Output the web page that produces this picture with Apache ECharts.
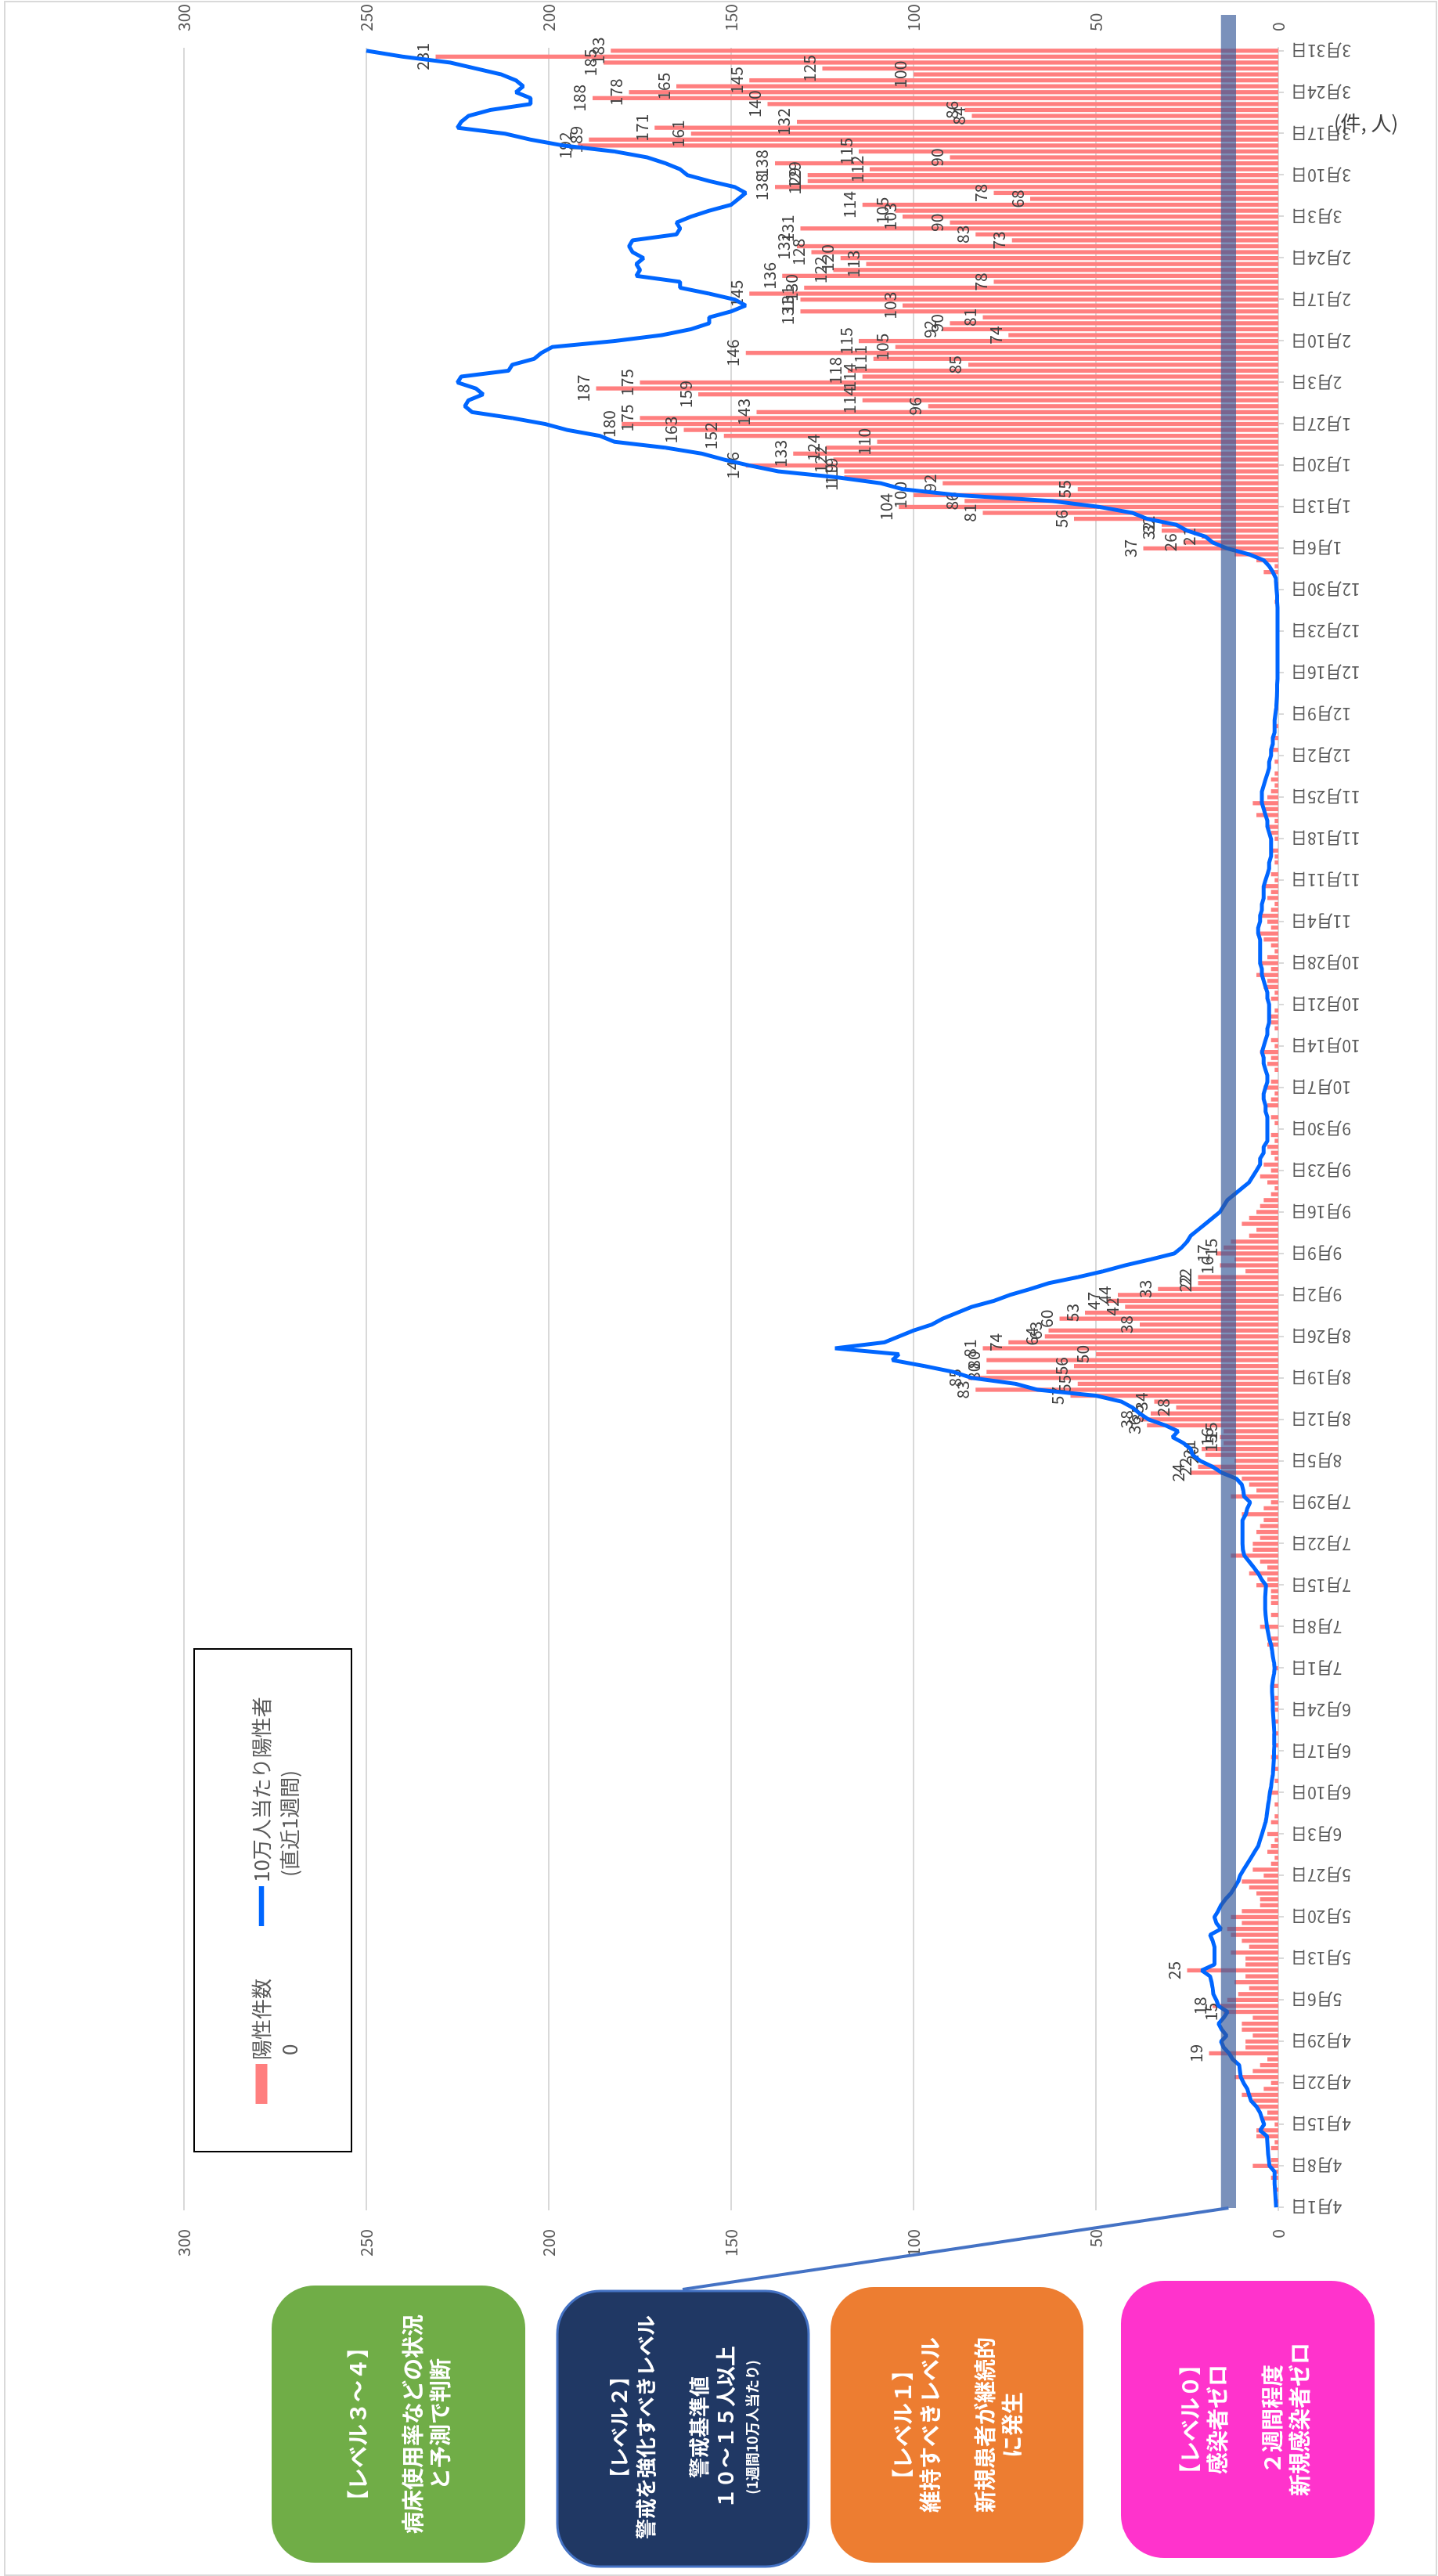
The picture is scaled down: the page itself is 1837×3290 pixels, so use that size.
<!DOCTYPE html>
<html>
<head>
<meta charset="utf-8">
<script src="https://cdn.jsdelivr.net/npm/echarts@6/dist/echarts.min.js"></script>
<style>
html, body { margin: 0; padding: 0; background: #fff; width: 1837px; height: 3290px; overflow: hidden; }
/* chart is laid out landscape, then turned a quarter turn to the left like the reference */
#chart { position: absolute; left: 0; top: 0; width: 3290px; height: 1837px;
  transform-origin: 0 0; transform: translate(0, 3290px) rotate(-90deg); }
</style>
</head>
<body>
<div id="chart"></div>
<script>
var FONT = '"Noto Sans CJK JP", "Noto Sans", sans-serif';

// 月と日数（4月〜翌3月）
var monthNo = [4, 5, 6, 7, 8, 9, 10, 11, 12, 1, 2, 3];
var monthLen = [30, 31, 30, 31, 31, 30, 31, 30, 31, 31, 28, 31];

// 陽性件数（日別）
var casesApr = [0,1,0,1,0,2,1,7,2,0,2,1,6,6,1,4,3,6,7,10,4,2,12,7,5,3,19,9,9,7];
var casesMay = [10,10,7,15,18,14,11,8,12,9,25,9,9,13,8,10,13,14,10,13,10,5,5,6,8,10,4,7,2,1,3];
var casesJun = [2,1,3,0,2,1,0,1,0,2,0,1,0,1,0,2,0,1,0,1,0,1,0,1,1,1,0,2,0,0];
var casesJul = [1,0,0,0,3,2,0,5,0,2,0,2,2,2,6,3,8,3,5,13,7,7,5,6,5,4,10,4,2,13,6];
var casesAug = [8,10,24,22,12,20,21,15,16,15,36,38,35,28,34,57,83,55,85,80,56,80,50,81,74,64,63,38,60,53,42];
var casesSep = [47,44,33,22,22,9,16,12,17,15,13,8,6,10,8,6,5,4,2,1,3,5,2,4,1,2,3,1,2,0];
var casesOct = [1,2,0,3,2,1,4,2,0,1,3,2,5,1,2,0,1,2,3,1,0,2,1,4,3,6,2,5,3,1,2];
var casesNov = [4,6,2,3,5,2,1,3,2,4,1,2,0,1,1,2,0,1,2,3,1,6,4,7,3,2,1,2,1,0];
var casesDec = [1,0,2,0,1,0,1,0,0,1,0,0,0,0,0,0,0,0,0,0,0,0,0,0,0,0,0,1,0,0,1];
var casesJan = [0,4,1,6,12,37,26,21,32,32,56,81,104,86,100,55,92,119,119,146,122,133,124,110,152,163,180,175,143,96,114];
var casesFeb = [159,187,175,114,118,85,111,146,105,115,74,92,90,81,131,103,131,145,130,78,136,122,113,120,128,132,73,83];
var casesMar = [131,90,103,105,114,68,78,138,129,129,112,138,90,115,192,189,161,171,132,84,86,140,188,178,165,145,100,125,185,231,183];

// 10万人当たり陽性者（直近1週間）
var rateApr = [0.6,0.7,0.8,0.9,1,1,1,2.4,2.6,2.8,2.9,3,3.1,5,3.9,4.5,5,6,7.5,8,8.5,9.5,10.3,10.5,10.7,12.5,13.5,15,15.7,14.2];
var rateMay = [15.5,16.4,15,13.9,16.4,17,17.8,18,18.3,18.7,21,17.5,17.5,17.5,17.5,18,18.7,15.7,17,17.5,16.5,15.7,14.5,13,12,11,10.5,9.5,8.5,7.5,6.5];
var rateJun = [5.5,5,4.5,4,3.5,3.2,3,2.8,2.5,2.3,2,1.8,1.5,1.4,1.3,1.2,1.2,1.1,1.1,1.1,1.2,1.3,1.4,1.5,1.5,1.6,1.7,1.7,1.5,1.2];
var rateJul = [1,1.2,1.5,1.7,2,2.5,2.8,3.1,3.3,3.5,3.6,3.6,3.6,3.5,3.4,4.6,5.5,6.7,8,9.3,9.7,9.8,9.8,9.8,9.8,9.8,8.9,8.5,7.7,9.4,9.6];
var rateAug = [10,11.5,15.5,18,21.4,23.5,24,26,29,27.5,31,35.6,38,40,43,50,66,72,84,89,97,105.8,104,121.5,108,104,100,95,92,88,84];
var rateSep = [78,73.6,68,62.9,55,48,42,35,28.5,26.5,25,24,22,20,18,16,15,14,12,10,8,7,6,5,5,4,4,3,3,3];
var rateOct = [3,3,3.5,3.5,4,4,3.5,3,3,3.5,4,4,4.5,4,3.5,3,3,2.5,2.5,2.5,2.5,3,3,3.5,4,4.5,4.5,5,5,5,5];
var rateNov = [5,5.5,5.5,5,5,4.5,4.5,4,4,4,3.5,3,2.5,2.5,2,2,2,2,2.5,3,3,3.5,4,4.5,4.5,4.5,4,3.5,3,2.5];
var rateDec = [2.5,2,2,1.5,1.5,1,1,1,0.8,0.6,0.5,0.4,0.3,0.3,0.2,0.2,0.2,0.2,0.2,0.2,0.2,0.2,0.2,0.2,0.2,0.2,0.2,0.3,0.3,0.5,0.6];
var rateJan = [0.7,1.5,2.5,4,8,14,18,20,25,28,36,40,49,62,88,103,109,121,137,145,152,158,168,182,186,195,201,210,221,223,222];
var rateFeb = [218,220,225,224,211,210,204,202,199,182,169,161,156,156,150,146,149,156,164,164,176,175,176,174,177,178,177,165];
var rateMar = [164,165,161,156,150,148,146,149,156,162,164,168,173,182,196,205,212,225,224,222,216,205,205,209,207,209,213,220,227,240,250];

// 警戒レベル帯（図中の帯の位置）
var bandLow = 11.6, bandHigh = 15.7;
var labelMin = 15; // これ以上の件数にだけ数値を表示

var dates = [];
for (var m = 0; m < monthNo.length; m++) {
  for (var d = 1; d <= monthLen[m]; d++) dates.push(monthNo[m] + '月' + d + '日');
}
var cases = [].concat(casesApr, casesMay, casesJun, casesJul, casesAug, casesSep,
  casesOct, casesNov, casesDec, casesJan, casesFeb, casesMar);
var rate = [].concat(rateApr, rateMay, rateJun, rateJul, rateAug, rateSep,
  rateOct, rateNov, rateDec, rateJan, rateFeb, rateMar);

var chart = echarts.init(document.getElementById('chart'), null, { width: 3290, height: 1837 });

var valueLabel = { fontSize: 21, color: '#595959', fontFamily: FONT };

chart.setOption({
  animation: false,
  backgroundColor: '#fff',
  grid: { left: 467, right: 61, top: 235, bottom: 204, outerBoundsMode: 'none' },
  legend: {
    left: 603, top: 321, padding: 0,
    itemWidth: 51, itemHeight: 15, itemGap: 67,
    textStyle: { fontSize: 26, color: '#595959', fontFamily: FONT },
    data: [
      { name: '陽性件数', icon: 'rect' },
      { name: '10万人当たり陽性者', icon: 'path://M0,0 L100,0 L100,13 L0,13 Z' }
    ]
  },
  xAxis: {
    type: 'category',
    data: dates,
    boundaryGap: true,
    axisLine: { lineStyle: { color: '#D9D9D9', width: 2 } },
    axisTick: { show: true, interval: 6, alignWithLabel: true, length: 7, lineStyle: { color: '#D9D9D9', width: 2 } },
    axisLabel: { interval: 6, rotate: 90, margin: 16, fontSize: 21, color: '#595959', fontFamily: FONT }
  },
  yAxis: [
    {
      type: 'value', min: 0, max: 300, interval: 50, position: 'left',
      axisLine: { show: false }, axisTick: { show: false },
      axisLabel: Object.assign({ margin: 24 }, valueLabel),
      splitLine: { lineStyle: { color: '#D9D9D9', width: 2 } }
    },
    {
      type: 'value', min: 0, max: 300, interval: 50, position: 'right',
      axisLine: { show: false }, axisTick: { show: false },
      axisLabel: Object.assign({ margin: 21 }, valueLabel),
      splitLine: { show: false }
    }
  ],
  series: [
    {
      name: '陽性件数',
      type: 'bar',
      data: cases,
      barCategoryGap: '30%',
      itemStyle: { color: '#FF7F7F' },
      label: {
        show: true, position: 'top', distance: 6,
        fontSize: 21, color: '#404040', fontFamily: FONT,
        formatter: function (p) { return p.value >= labelMin ? String(p.value) : ''; }
      },
      z: 2
    },
    {
      name: '10万人当たり陽性者',
      type: 'line',
      data: rate,
      showSymbol: false,
      symbol: 'none',
      itemStyle: { color: '#0066FF' },
      lineStyle: { color: '#0066FF', width: 5 },
      z: 3
    }
  ]
});

// 帯の位置は軸から求める
var yHi = chart.convertToPixel({ yAxisIndex: 0 }, bandHigh);
var yLo = chart.convertToPixel({ yAxisIndex: 0 }, bandLow);

function box(x, y, w, h, fill, stroke) {
  return {
    type: 'rect', shape: { x: x, y: y, width: w, height: h, r: 55 },
    style: { fill: fill, stroke: stroke || null, lineWidth: stroke ? 3 : 0 }, z: 10
  };
}
function boxText(x, y, text, size) {
  return {
    type: 'text', z: 11,
    style: {
      x: x, y: y, text: text, fill: '#fff', align: 'center', verticalAlign: 'middle',
      font: 'bold ' + size + 'px ' + FONT, lineHeight: 35
    }
  };
}

chart.setOption({
  graphic: [
    // 外枠
    { type: 'rect', shape: { x: 1, y: 6, width: 3287, height: 1829 }, style: { fill: null, stroke: '#D9D9D9', lineWidth: 2 }, z: 0 },
    // 凡例の枠と2行目
    { type: 'rect', shape: { x: 542, y: 248, width: 642, height: 201 }, style: { fill: null, stroke: '#000', lineWidth: 2 }, z: 5 },
    { type: 'text', z: 6, style: { x: 665, y: 370, text: '0', fill: '#595959', font: '26px ' + FONT, verticalAlign: 'middle' } },
    { type: 'text', z: 6, style: { x: 893, y: 370, text: '(直近1週間)', fill: '#595959', font: '26px ' + FONT, verticalAlign: 'middle' } },
    // 単位（縦に回す）
    {
      type: 'group', x: 3133, y: 1745, rotation: -Math.PI / 2, z: 6,
      children: [
        { type: 'text', z: 6, style: { x: 0, y: 0, text: '(件, 人)', fill: '#404040', font: '26px ' + FONT, align: 'center', verticalAlign: 'middle' } }
      ]
    },
    // 警戒基準の帯
    { type: 'rect', shape: { x: 470, y: yHi, width: 2801, height: yLo - yHi }, style: { fill: 'rgba(51,86,151,0.65)' }, z: 100 },
    { type: 'line', shape: { x1: 470, y1: (yHi + yLo) / 2, x2: 366, y2: 872 }, style: { stroke: '#4472C4', lineWidth: 4 }, z: 100 },
    // レベルの箱
    box(17, 347, 354, 324, '#70AD47'),
    boxText(194, 510, '【レベル３～４】\n\n病床使用率などの状況\nと予測で判断', 28),
    box(12, 712, 352, 321, '#203864', '#4472C4'),
    {
      type: 'text', z: 11,
      style: {
        x: 190, y: 876, align: 'center', verticalAlign: 'middle', fill: '#fff',
        font: 'bold 26px ' + FONT, lineHeight: 34,
        text: '{a|【レベル２】}\n{a|警戒を強化すべきレベル}\n\n{a|警戒基準値}\n{a|１０～１５人以上}\n{b|(1週間10万人当たり)}',
        rich: {
          a: { fill: '#fff', font: 'bold 26px ' + FONT, lineHeight: 34 },
          b: { fill: '#fff', font: 'bold 18px ' + FONT, lineHeight: 34 }
        }
      }
    },
    box(17, 1061, 352, 323, '#ED7D31'),
    boxText(193, 1223, '【レベル１】\n維持すべきレベル\n\n新規患者が継続的\nに発生', 28),
    box(23, 1432, 354, 324, '#FF33CC'),
    boxText(200, 1590, '【レベル０】\n感染者ゼロ\n\n２週間程度\n新規感染者ゼロ', 28)
  ]
});
</script>
</body>
</html>
